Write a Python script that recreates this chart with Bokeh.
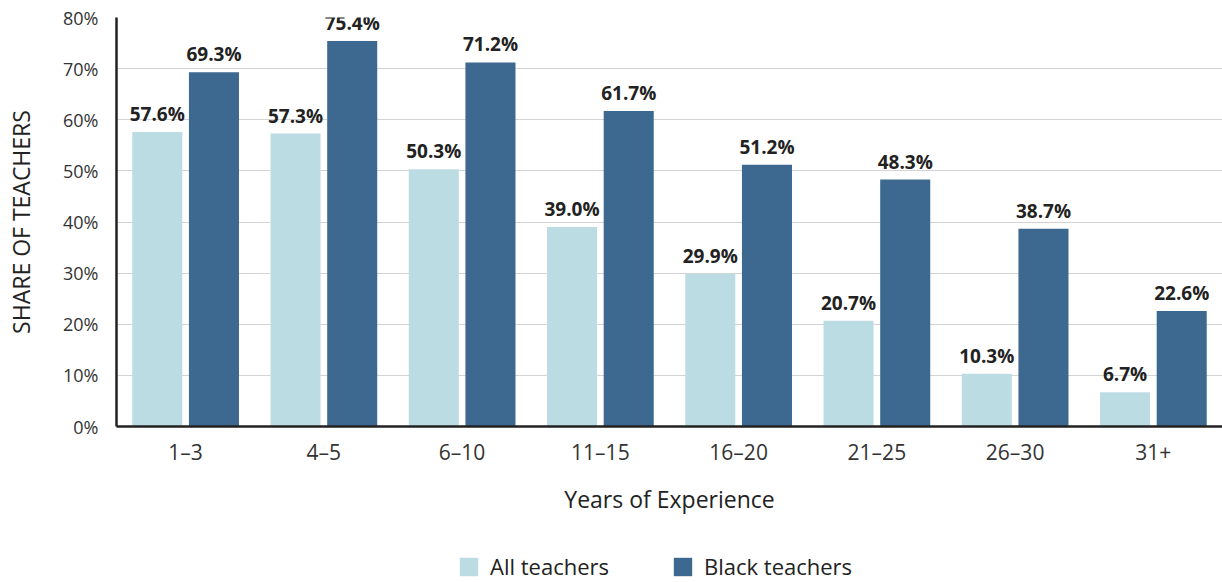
from bokeh.plotting import figure
from bokeh.layouts import column
from bokeh.models import (ColumnDataSource, FactorRange, Range1d, FixedTicker,
                          Legend, LegendItem)
from bokeh.transform import dodge
from bokeh.core.properties import value
from bokeh.embed import file_html
from bokeh.resources import INLINE

# Share of teachers by years of experience
years = ["1–3", "4–5", "6–10", "11–15", "16–20", "21–25", "26–30", "31+"]
all_teachers = [57.6, 57.3, 50.3, 39.0, 29.9, 20.7, 10.3, 6.7]
black_teachers = [69.3, 75.4, 71.2, 61.7, 51.2, 48.3, 38.7, 22.6]
y_ticks = [0, 10, 20, 30, 40, 50, 60, 70, 80]
series_names = ["All teachers", "Black teachers"]

LIGHT = "#bcdce4"
DARK = "#3d6990"
FONT = "Open Sans"

src = ColumnDataSource(dict(
    years=years,
    all=all_teachers,
    black=black_teachers,
    all_lbl=[f"{v:.1f}%" for v in all_teachers],
    black_lbl=[f"{v:.1f}%" for v in black_teachers],
))

p = figure(frame_width=1106, frame_height=409, x_range=FactorRange(*years),
           y_range=Range1d(0, 80), output_backend="svg", toolbar_location=None,
           min_border_left=116, min_border_right=0, min_border_top=17,
           min_border_bottom=120)
p.outline_line_color = None
p.background_fill_color = "white"

bw = 0.362
off = 0.205
p.vbar(x=dodge("years", -off, range=p.x_range), top="all", width=bw,
       source=src, color=LIGHT, line_color=None)
p.vbar(x=dodge("years", off, range=p.x_range), top="black", width=bw,
       source=src, color=DARK, line_color=None)

lbl_kw = dict(text_align="center", text_baseline="bottom", y_offset=-5,
              text_font=value(FONT), text_font_style="bold",
              text_font_size="19px", text_color="#222222")
p.text(x=dodge("years", -off, range=p.x_range), y="all", text="all_lbl",
       source=src, **lbl_kw)
p.text(x=dodge("years", off, range=p.x_range), y="black", text="black_lbl",
       source=src, **lbl_kw)

# grid
p.xgrid.grid_line_color = None
p.ygrid.grid_line_color = "#d3d3d3"
p.ygrid.grid_line_width = 1.2
p.ygrid.ticker = FixedTicker(ticks=y_ticks)

# y axis
yax = p.yaxis[0]
yax.ticker = FixedTicker(ticks=y_ticks)
yax.major_label_overrides = {t: f"{t}%" for t in y_ticks}
yax.major_tick_line_color = None
yax.minor_tick_line_color = None
yax.axis_line_color = "#222222"
yax.axis_line_width = 2.5
yax.major_label_standoff = 12
yax.major_label_text_font = FONT
yax.major_label_text_font_size = "18px"
yax.major_label_text_color = "#333333"
yax.axis_label = "SHARE OF TEACHERS"
yax.axis_label_text_font = FONT
yax.axis_label_text_font_style = "normal"
yax.axis_label_text_font_size = "23px"
yax.axis_label_text_color = "#222222"
yax.axis_label_standoff = 23

# x axis
xax = p.xaxis[0]
xax.major_tick_line_color = None
xax.minor_tick_line_color = None
xax.axis_line_color = "#222222"
xax.axis_line_width = 2.5
xax.major_label_standoff = 5
xax.major_label_text_font = FONT
xax.major_label_text_font_size = "21px"
xax.major_label_text_color = "#333333"
xax.axis_label = "Years of Experience"
xax.axis_label_text_font = FONT
xax.axis_label_text_font_style = "normal"
xax.axis_label_text_font_size = "23px"
xax.axis_label_text_color = "#222222"
xax.axis_label_standoff = 14

# legend strip underneath the chart; swatch renderers sit outside the view
lg = figure(width=1222, height=36, x_range=Range1d(0, 1), y_range=Range1d(0, 1),
            output_backend="svg", toolbar_location=None,
            x_axis_type=None, y_axis_type=None,
            min_border_left=0, min_border_right=0, min_border_top=0,
            min_border_bottom=0)
lg.outline_line_color = None
lg.xgrid.visible = False
lg.ygrid.visible = False
offscreen = ColumnDataSource(dict(x=[-10], y=[-10]))
sw_all = lg.rect(x="x", y="y", width=1, height=1, source=offscreen,
                 color=LIGHT, line_color=None)
sw_black = lg.rect(x="x", y="y", width=1, height=1, source=offscreen,
                   color=DARK, line_color=None)
legend = Legend(items=[LegendItem(label=series_names[0], renderers=[sw_all]),
                       LegendItem(label=series_names[1], renderers=[sw_black])],
                orientation="horizontal", location=(341, 1),
                glyph_width=23, glyph_height=23, label_standoff=10,
                spacing=62, label_text_font=FONT, label_text_font_size="22px",
                label_text_color="#222222", border_line_color=None,
                background_fill_alpha=0, padding=2, margin=0)
lg.add_layout(legend)

open("out.html", "w").write(file_html(column(p, lg, spacing=0), INLINE))
